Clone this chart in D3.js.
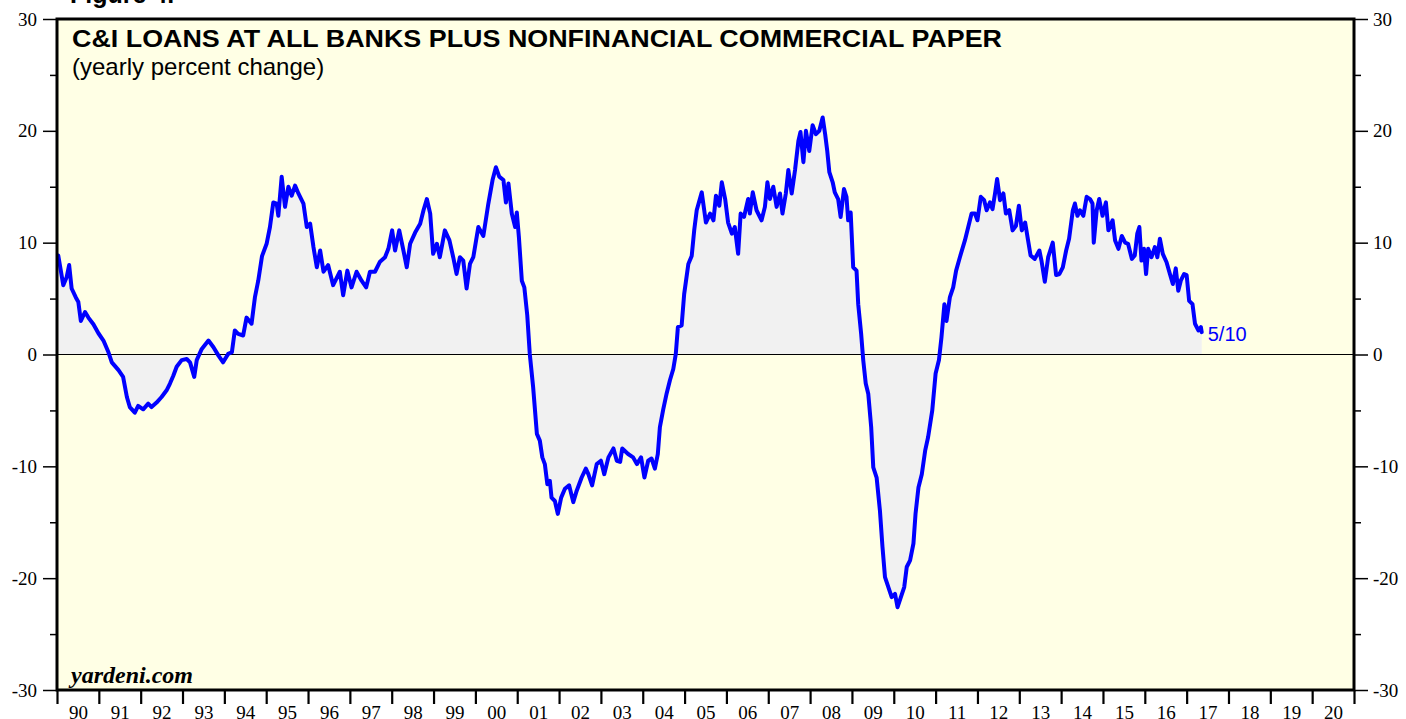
<!DOCTYPE html>
<html>
<head>
<meta charset="utf-8">
<script src="https://cdn.jsdelivr.net/npm/d3@7"></script>
<style>
  html, body { margin: 0; padding: 0; background: #ffffff; }
  svg { display: block; }
</style>
</head>
<body>
<svg id="chart" width="1406" height="719"></svg>
<script>
// ---- Data ----
const dates = [
  1990.03,1990.15,1990.23,1990.29,1990.35,1990.45,1990.51,1990.57,1990.67,1990.75,1990.87,1990.99,
  1991.11,1991.23,1991.31,1991.47,1991.58,1991.67,1991.74,1991.86,1991.94,
  1992.06,1992.18,1992.26,1992.38,1992.50,1992.62,1992.70,1992.78,1992.86,1992.98,
  1993.10,1993.18,1993.28,1993.34,1993.46,1993.62,1993.74,1993.86,1993.97,
  1994.09,1994.18,1994.25,1994.33,1994.45,1994.53,1994.65,1994.73,1994.81,1994.90,
  1995.01,1995.09,1995.17,1995.25,1995.29,1995.37,1995.45,1995.53,1995.61,1995.69,1995.77,1995.89,1995.97,
  1996.05,1996.13,1996.21,1996.29,1996.37,1996.48,1996.60,1996.76,1996.84,1996.94,
  1997.04,1997.16,1997.28,1997.39,1997.48,1997.60,1997.72,1997.84,1997.92,
  1998.01,1998.08,1998.18,1998.28,1998.36,1998.44,1998.56,1998.68,1998.76,1998.84,1998.92,1998.99,
  1999.08,1999.15,1999.27,1999.38,1999.47,1999.55,1999.63,1999.71,1999.79,1999.87,1999.95,
  2000.07,2000.19,2000.31,2000.41,2000.49,2000.57,2000.67,2000.73,2000.79,2000.87,2000.95,2000.99,
  2001.04,2001.11,2001.17,2001.24,2001.30,2001.38,2001.47,2001.54,2001.60,2001.66,2001.72,2001.78,2001.82,2001.90,2001.97,
  2002.05,2002.14,2002.24,2002.34,2002.42,2002.54,2002.64,2002.70,2002.79,2002.90,
  2003.00,2003.08,2003.18,2003.30,2003.38,2003.46,2003.51,2003.65,2003.77,2003.86,2003.96,
  2004.04,2004.13,2004.21,2004.29,2004.36,2004.41,2004.49,2004.57,2004.65,2004.73,2004.79,2004.84,2004.93,2004.99,
  2005.09,2005.17,2005.23,2005.29,2005.41,2005.51,2005.61,2005.69,2005.75,2005.83,2005.89,2005.97,
  2006.04,2006.13,2006.20,2006.28,2006.34,2006.42,2006.52,2006.56,2006.63,2006.72,2006.84,2006.92,2006.98,
  2007.04,2007.12,2007.20,2007.28,2007.34,2007.42,2007.48,2007.56,2007.64,2007.72,2007.77,2007.84,2007.90,2007.98,
  2008.06,2008.14,2008.22,2008.30,2008.36,2008.41,2008.46,2008.54,2008.59,2008.67,2008.73,2008.81,2008.87,2008.91,2008.97,
  2009.03,2009.11,2009.15,2009.22,2009.27,2009.33,2009.39,2009.46,2009.51,2009.59,2009.67,2009.73,2009.79,2009.87,2009.95,
  2010.03,2010.09,2010.17,2010.25,2010.31,2010.39,2010.47,2010.52,2010.59,2010.67,2010.75,2010.82,2010.92,
  2011.00,2011.08,2011.14,2011.21,2011.26,2011.34,2011.42,2011.49,2011.58,2011.70,2011.78,2011.86,2011.94,
  2012.00,2012.08,2012.16,2012.22,2012.30,2012.36,2012.42,2012.47,2012.54,2012.62,2012.68,2012.76,2012.84,2012.92,2012.99,
  2013.06,2013.14,2013.21,2013.27,2013.37,2013.48,2013.53,2013.61,2013.69,2013.80,2013.88,2013.96,
  2014.04,2014.12,2014.19,2014.28,2014.33,2014.39,2014.45,2014.53,2014.61,2014.69,2014.75,2014.78,2014.85,2014.91,2014.99,
  2015.07,2015.13,2015.23,2015.29,2015.37,2015.45,2015.53,2015.60,2015.69,2015.76,2015.82,2015.87,2015.92,2015.98,
  2016.03,2016.08,2016.16,2016.24,2016.30,2016.36,2016.43,2016.52,2016.60,2016.67,2016.74,2016.80,2016.86,2016.94,
  2017.00,2017.06,2017.14,2017.20,2017.28,2017.34,2017.36
];
const values = [
  8.85,6.2,6.9,8.0,5.9,5.1,4.7,3.0,3.8,3.3,2.7,1.9,
  1.25,0.2,-0.7,-1.4,-2.0,-3.8,-4.7,-5.2,-4.6,
  -4.9,-4.4,-4.7,-4.3,-3.8,-3.2,-2.6,-1.9,-1.1,-0.5,
  -0.4,-0.7,-2.0,-0.5,0.5,1.25,0.65,-0.1,-0.7,
  0.05,0.2,2.15,1.85,1.7,3.3,2.75,5.1,6.6,8.8,
  9.9,11.4,13.6,13.5,12.4,15.9,13.2,15.0,14.2,15.1,14.4,13.5,11.4,
  11.7,9.6,7.8,9.3,7.4,8.0,6.2,7.4,5.3,7.5,
  6.0,7.4,6.6,6.0,7.4,7.4,8.3,8.7,9.45,
  11.1,9.3,11.1,9.3,7.8,9.9,10.9,11.7,12.9,13.9,12.6,9.0,
  9.9,8.7,11.1,10.2,8.7,7.2,8.7,8.4,5.9,8.1,8.7,
  11.4,10.6,13.5,15.6,16.75,15.9,15.6,13.6,15.3,12.6,11.4,12.7,
  10.5,6.6,6.0,3.5,0.05,-2.9,-7.1,-7.7,-9.2,-9.8,-11.6,-11.3,-12.8,-13.1,-14.25,
  -12.8,-12.0,-11.7,-13.2,-12.2,-11.0,-10.2,-10.7,-11.7,-9.8,
  -9.5,-10.7,-9.2,-8.4,-9.5,-9.6,-8.4,-8.9,-9.2,-9.8,-9.2,
  -11.0,-9.5,-9.3,-10.2,-8.9,-6.5,-4.9,-3.5,-2.3,-1.3,0.05,2.45,2.6,5.4,
  8.1,8.8,11.1,12.9,14.5,11.8,12.6,12.0,14.2,13.3,15.4,13.9,
  11.8,10.8,11.4,9.0,12.6,12.3,13.9,12.6,14.5,12.9,12.0,13.2,15.4,
  13.9,15.0,13.2,14.4,12.6,14.4,16.5,14.4,16.5,19.1,19.9,17.2,20.0,18.2,
  20.5,19.7,20.0,21.2,19.7,18.2,16.3,15.4,14.5,13.9,12.3,14.8,14.1,12.0,12.7,
  7.8,7.5,4.5,1.85,-0.5,-2.6,-3.5,-6.5,-10.1,-11.0,-14.0,-17.2,-19.9,-20.8,-21.7,
  -21.4,-22.6,-21.7,-20.8,-19.0,-18.4,-16.9,-14.25,-11.9,-10.7,-8.6,-7.4,-5.0,
  -1.7,-0.5,1.55,4.5,3.0,5.1,6.0,7.5,8.7,10.2,11.4,12.6,12.6,
  12.0,14.1,13.8,12.9,13.6,13.0,14.4,15.7,13.8,14.4,12.6,12.9,11.1,11.5,13.3,
  11.1,11.8,10.2,8.85,8.55,9.3,8.4,6.5,8.7,10.0,7.1,7.2,
  7.8,9.3,10.35,12.9,13.5,12.4,12.9,12.4,14.1,13.9,13.5,10.0,12.9,13.9,12.4,
  13.6,11.1,12.0,10.2,9.45,10.6,10.0,9.9,8.55,8.85,10.8,11.4,8.4,9.45,
  7.2,9.45,8.7,9.6,8.7,10.35,9.0,8.25,7.2,6.3,7.7,5.7,6.6,7.2,
  7.1,4.8,4.5,2.75,2.15,2.45,2.0
];
const yearTicks = d3.range(1990, 2022);          // year boundaries
const yearLabels = d3.range(1990, 2021);         // labelled years
const yMajor = [-30, -20, -10, 0, 10, 20, 30];
const yMinor = [-25, -15, -5, 5, 15, 25];
const titleText = "C&I LOANS AT ALL BANKS PLUS NONFINANCIAL COMMERCIAL PAPER";
const subtitleText = "(yearly percent change)";
const figureText = "Figure 4.";
const lastLabel = "5/10";
const sourceText = "yardeni.com";

// ---- Layout ----
const L = 57, R = 1354, T = 19, B = 690;
const svg = d3.select("#chart");
const x = d3.scaleLinear().domain([1990, 2021]).range([L, R]);
const y = d3.scaleLinear().domain([-30, 30]).range([B, T]);
const data = dates.map((d, i) => ({ t: d, v: values[i] }));

// plot background
svg.append("rect").attr("x", L).attr("y", T).attr("width", R - L).attr("height", B - T)
  .attr("fill", "#ffffe5");

// area between line and zero
svg.append("path").datum(data)
  .attr("d", d3.area().x(d => x(d.t)).y0(y(0)).y1(d => y(d.v)))
  .attr("fill", "#f1f1f1");

// zero line
svg.append("line").attr("x1", L).attr("x2", R).attr("y1", y(0)).attr("y2", y(0))
  .attr("stroke", "#000").attr("stroke-width", 1.2);

// series line
svg.append("path").datum(data)
  .attr("d", d3.line().x(d => x(d.t)).y(d => y(d.v)))
  .attr("fill", "none").attr("stroke", "#0000ff").attr("stroke-width", 4)
  .attr("stroke-linejoin", "round").attr("stroke-linecap", "round");

// last value label
const last = data[data.length - 1];
svg.append("text").attr("x", x(last.t) + 6).attr("y", y(last.v) + 9)
  .attr("font-family", "Liberation Sans, Arial, sans-serif").attr("font-size", 20)
  .attr("fill", "#0000ff").text(lastLabel);

// axes
const serif = "Liberation Serif, Times New Roman, serif";
function styleAxis(g, sw) {
  g.select(".domain").remove();
  g.selectAll(".tick line").attr("stroke", "#000").attr("stroke-width", sw);
  g.selectAll(".tick text").attr("font-family", serif).attr("font-size", 19).attr("fill", "#000");
}
const fmt = d => String(d);
svg.append("g").attr("transform", `translate(${L},0)`)
  .call(d3.axisLeft(y).tickValues(yMajor).tickSize(14).tickPadding(6).tickFormat(fmt))
  .call(g => styleAxis(g, 1.5));
svg.append("g").attr("transform", `translate(${L},0)`)
  .call(d3.axisLeft(y).tickValues(yMinor).tickSize(7).tickFormat(""))
  .call(g => styleAxis(g, 1.5));
svg.append("g").attr("transform", `translate(${R},0)`)
  .call(d3.axisRight(y).tickValues(yMajor).tickSize(14).tickPadding(5).tickFormat(fmt))
  .call(g => styleAxis(g, 1.5));
svg.append("g").attr("transform", `translate(${R},0)`)
  .call(d3.axisRight(y).tickValues(yMinor).tickSize(7).tickFormat(""))
  .call(g => styleAxis(g, 1.5));
svg.append("g").attr("transform", `translate(0,${B})`)
  .call(d3.axisBottom(x).tickValues(yearTicks).tickSize(14).tickFormat(""))
  .call(g => styleAxis(g, 2.2));
svg.append("g").attr("transform", `translate(0,${B})`)
  .call(d3.axisBottom(x).tickValues(yearLabels.map(v => v + 0.5)).tickSize(0).tickPadding(16)
    .tickFormat(v => String(Math.floor(v) % 100).padStart(2, "0")))
  .call(g => styleAxis(g, 0));

// frame
svg.append("rect").attr("x", L).attr("y", T).attr("width", R - L).attr("height", B - T)
  .attr("fill", "none").attr("stroke", "#000").attr("stroke-width", 3);

// texts
const sans = "Liberation Sans, Arial, Helvetica, sans-serif";
svg.append("text").attr("x", 70).attr("y", 3).attr("font-family", sans)
  .attr("font-weight", "bold").attr("font-size", 25).text(figureText);
svg.append("text").attr("x", 72).attr("y", 47).attr("font-family", sans)
  .attr("font-weight", "bold").attr("font-size", 24)
  .attr("textLength", 930).attr("lengthAdjust", "spacingAndGlyphs").text(titleText);
svg.append("text").attr("x", 72).attr("y", 75).attr("font-family", sans)
  .attr("font-size", 24).text(subtitleText);
svg.append("text").attr("x", 71).attr("y", 683).attr("font-family", serif)
  .attr("font-weight", "bold").attr("font-style", "italic").attr("font-size", 24).text(sourceText);
</script>
</body>
</html>
